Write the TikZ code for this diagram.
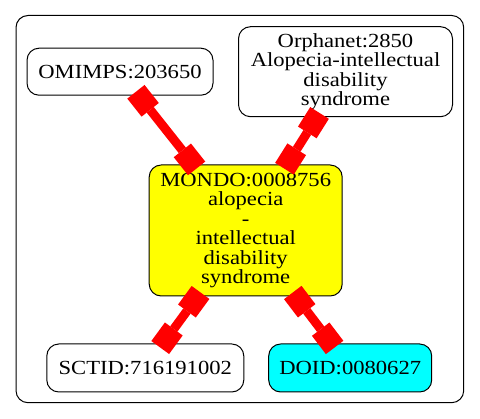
\documentclass[tikz,border=0pt]{standalone}
\usepackage{fontspec}
\setmainfont{Liberation Serif}[FakeStretch=1.13]
\usepackage{tikz}
\usetikzlibrary{arrows.meta, positioning}
\definecolor{termyellow}{RGB}{255,255,0}
\definecolor{termcyan}{RGB}{0,255,255}
\definecolor{xrefred}{RGB}{255,0,0}

\begin{document}
\begin{tikzpicture}[x=1pt, y=-1pt,
    term/.style={draw=black, line width=1pt, rounded corners=12pt, align=center,
      font=\fontsize{20}{19.5}\selectfont, inner sep=2pt},
    xref/.style={draw=xrefred, line width=9pt,
      {Square[length=23pt,width=22pt,line width=0pt]}-{Square[length=23pt,width=22pt,line width=0pt]},
      shorten <=-5pt, shorten >=-5pt}]
    \useasboundingbox (0,0) rectangle (480,419);

    % Cluster frame
    \draw[line width=1pt, rounded corners=12pt] (16,15.5) rectangle (463.7,402.7);

    % Terms
    \node[term, minimum width=186pt, minimum height=47pt] (omimps) at (120,71.7) {OMIMPS:203650};
    \node[term, minimum width=214pt, minimum height=90pt] (orphanet) at (345.5,71.7)
        {Orphanet:2850\\Alopecia-intellectual\\disability\\syndrome};
    \node[term, fill=termyellow, minimum width=193pt, minimum height=131pt] (mondo) at (245.7,230.5)
        {MONDO:0008756\\alopecia\\-\\intellectual\\disability\\syndrome};
    \node[term, minimum width=197pt, minimum height=48pt] (sctid) at (145.3,368) {SCTID:716191002};
    \node[term, fill=termcyan, minimum width=163pt, minimum height=48pt] (doid) at (350.2,368) {DOID:0080627};

    % Cross references
    \draw[xref] (omimps) -- (mondo);
    \draw[xref] (orphanet) -- (mondo);
    \draw[xref] (mondo) -- (sctid);
    \draw[xref] (mondo) -- (doid);
\end{tikzpicture}
\end{document}
